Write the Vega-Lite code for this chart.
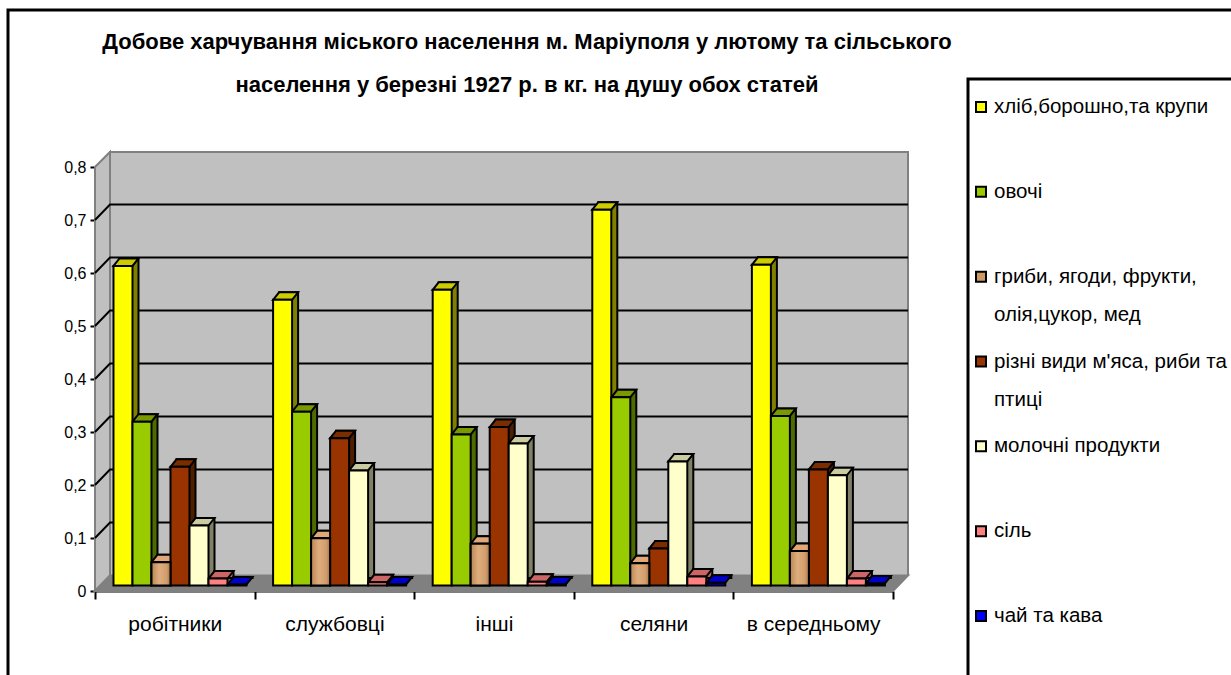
{
"$schema":"https://vega.github.io/schema/vega-lite/v6.json",
"width":798,"height":424,
"autosize":"none",
"padding":{"left":95,"top":167,"right":338,"bottom":84},
"background":"white",
"title":{"text":["Добове харчування міського населення м. Маріуполя у лютому та сільського","населення у березні 1927 р. в кг. на душу обох статей"],"font":"Liberation Sans","fontWeight":"bold","fontSize":22,"lineHeight":43,"dx":33,"offset":-93,"anchor":"middle","color":"black"},
"config":{"view":{"stroke":null},"font":"Liberation Sans"},
"datasets":{
"bars":[
{"cat":"робітники","series":"хліб,борошно,та крупи","value":0.603},
{"cat":"робітники","series":"овочі","value":0.309},
{"cat":"робітники","series":"гриби, ягоди, фрукти, олія,цукор, мед","value":0.044},
{"cat":"робітники","series":"різні види м'яса, риби та птиці","value":0.224},
{"cat":"робітники","series":"молочні продукти","value":0.113},
{"cat":"робітники","series":"сіль","value":0.013},
{"cat":"робітники","series":"чай та кава","value":0.002},
{"cat":"службовці","series":"хліб,борошно,та крупи","value":0.539},
{"cat":"службовці","series":"овочі","value":0.328},
{"cat":"службовці","series":"гриби, ягоди, фрукти, олія,цукор, мед","value":0.089},
{"cat":"службовці","series":"різні види м'яса, риби та птиці","value":0.278},
{"cat":"службовці","series":"молочні продукти","value":0.217},
{"cat":"службовці","series":"сіль","value":0.006},
{"cat":"службовці","series":"чай та кава","value":0.002},
{"cat":"інші","series":"хліб,борошно,та крупи","value":0.558},
{"cat":"інші","series":"овочі","value":0.285},
{"cat":"інші","series":"гриби, ягоди, фрукти, олія,цукор, мед","value":0.079},
{"cat":"інші","series":"різні види м'яса, риби та птиці","value":0.299},
{"cat":"інші","series":"молочні продукти","value":0.268},
{"cat":"інші","series":"сіль","value":0.007},
{"cat":"інші","series":"чай та кава","value":0.002},
{"cat":"селяни","series":"хліб,борошно,та крупи","value":0.709},
{"cat":"селяни","series":"овочі","value":0.355},
{"cat":"селяни","series":"гриби, ягоди, фрукти, олія,цукор, мед","value":0.042},
{"cat":"селяни","series":"різні види м'яса, риби та птиці","value":0.07},
{"cat":"селяни","series":"молочні продукти","value":0.234},
{"cat":"селяни","series":"сіль","value":0.017},
{"cat":"селяни","series":"чай та кава","value":0.005},
{"cat":"в  середньому","series":"хліб,борошно,та крупи","value":0.605},
{"cat":"в  середньому","series":"овочі","value":0.32},
{"cat":"в  середньому","series":"гриби, ягоди, фрукти, олія,цукор, мед","value":0.065},
{"cat":"в  середньому","series":"різні види м'яса, риби та птиці","value":0.219},
{"cat":"в  середньому","series":"молочні продукти","value":0.208},
{"cat":"в  середньому","series":"сіль","value":0.013},
{"cat":"в  середньому","series":"чай та кава","value":0.004}
],
"cats":[{"cat":"робітники","top":0.8},{"cat":"службовці","top":0.8},{"cat":"інші","top":0.8},{"cat":"селяни","top":0.8},{"cat":"в  середньому","top":0.8}],
"ticks":[{"cat":"робітники","tick":0.1},{"cat":"робітники","tick":0.2},{"cat":"робітники","tick":0.3},{"cat":"робітники","tick":0.4},{"cat":"робітники","tick":0.5},{"cat":"робітники","tick":0.6},{"cat":"робітники","tick":0.7}],
"origin":[{"cat":"робітники","tick":0,"fx":0}],
"legend":[
{"series":"хліб,борошно,та крупи","label":"хліб,борошно,та крупи","row":0,"sx":0,"lx":1},
{"series":"овочі","label":"овочі","row":1,"sx":0,"lx":1},
{"series":"гриби, ягоди, фрукти, олія,цукор, мед","label":"гриби, ягоди, фрукти,|олія,цукор, мед","row":2,"sx":0,"lx":1},
{"series":"різні види м'яса, риби та птиці","label":"різні види м'яса, риби та|птиці","row":3,"sx":0,"lx":1},
{"series":"молочні продукти","label":"молочні продукти","row":4,"sx":0,"lx":1},
{"series":"сіль","label":"сіль","row":5,"sx":0,"lx":1},
{"series":"чай та кава","label":"чай та кава","row":6,"sx":0,"lx":1}
]
},
"layer":[
{"layer":[
{"data":{"name":"cats"},"mark":{"type":"bar","color":"#C0C0C0","stroke":"#C0C0C0","strokeWidth":1,"xOffset":15,"x2Offset":15,"yOffset":-15.5,"y2Offset":-15.5,"clip":false},
 "encoding":{"x":{"field":"cat","type":"nominal","sort":null,"scale":{"domain":["робітники","службовці","інші","селяни","в  середньому"],"paddingInner":0,"paddingOuter":0},"axis":{"title":null,"labelFont":"Liberation Sans","labelFontSize":21,"labelColor":"black","labelAngle":0,"labelPadding":14,"domainColor":"black","domainWidth":2,"tickColor":"black","tickWidth":2,"tickSize":8,"tickBand":"extent","grid":false}},
 "y":{"field":"top","type":"quantitative","scale":{"domain":[0,0.8],"nice":false},"axis":{"title":null,"values":[0,0.1,0.2,0.3,0.4,0.5,0.6,0.7,0.8],"labelExpr":"datum.value==0?'0':replace(datum.label,'.',',')","labelFont":"Liberation Sans","labelFontSize":16,"labelColor":"black","labelPadding":4,"domainColor":"black","domainWidth":2,"tickColor":"black","tickWidth":2,"tickSize":5,"grid":false}}}},
{"data":{"name":"origin"},"mark":{"type":"point","filled":true,"fill":"#C0C0C0","stroke":"#808080","strokeWidth":2,"opacity":1,"size":4,"shape":"M0,0 L15,-15.5 L15,-439 L0,-424 Z"},
 "encoding":{"x":{"field":"cat","type":"nominal","bandPosition":0},"y":{"field":"tick","type":"quantitative"}}},
{"data":{"name":"origin"},"mark":{"type":"point","filled":true,"fill":"#808080","stroke":"#808080","strokeWidth":2,"opacity":1,"size":4,"shape":"M0,0 L15,-15.5 L813,-15.5 L798,0 Z"},
 "encoding":{"x":{"field":"cat","type":"nominal","bandPosition":0},"y":{"field":"tick","type":"quantitative"}}},
{"data":{"name":"origin"},"mark":{"type":"point","filled":false,"stroke":"#808080","strokeWidth":2,"opacity":1,"size":4,"shape":"M15,-15.5 L15,-439 L813,-439 L813,-15.5"},
 "encoding":{"x":{"field":"cat","type":"nominal","bandPosition":0},"y":{"field":"tick","type":"quantitative"}}},
{"data":{"name":"ticks"},"mark":{"type":"point","filled":false,"stroke":"black","strokeWidth":2,"opacity":1,"size":4,"shape":"M0,0 L15,-15.5 L813,-15.5"},
 "encoding":{"x":{"field":"cat","type":"nominal","bandPosition":0},"y":{"field":"tick","type":"quantitative"}}},
{"data":{"name":"bars"},"mark":{"type":"bar","yOffset":-13,"y2Offset":-13,"stroke":"black","strokeWidth":2},
 "encoding":{"x":{"field":"cat","type":"nominal"},"xOffset":{"field":"series","sort":null,"scale":{"domain":["хліб,борошно,та крупи","овочі","гриби, ягоди, фрукти, олія,цукор, мед","різні види м'яса, риби та птиці","молочні продукти","сіль","чай та кава"],"range":[11,171],"paddingOuter":0.71,"paddingInner":0}},"y":{"field":"value","type":"quantitative"},
 "fill":{"field":"series","type":"nominal","legend":null,"scale":{"domain":["хліб,борошно,та крупи","овочі","гриби, ягоди, фрукти, олія,цукор, мед","різні види м'яса, риби та птиці","молочні продукти","сіль","чай та кава"],"range":["#808000","#4E6B00","#A87B50","#4D1F00","#808066","#B36666","#00007F"]}}}},
{"data":{"name":"bars"},"mark":{"type":"point","filled":true,"stroke":"black","strokeWidth":2,"opacity":1,"size":4,"yOffset":-5.5,"shape":"M-9.5,0 L-3.5,-7.5 L15.5,-7.5 L9.5,0 Z"},
 "encoding":{"x":{"field":"cat","type":"nominal"},"xOffset":{"field":"series","sort":null,"scale":{"type":"point","domain":["хліб,борошно,та крупи","овочі","гриби, ягоди, фрукти, олія,цукор, мед","різні види м'яса, риби та птиці","молочні продукти","сіль","чай та кава"],"range":[28,142],"padding":0}},"y":{"field":"value","type":"quantitative"},
 "fill":{"field":"series","type":"nominal","legend":null,"scale":{"domain":["хліб,борошно,та крупи","овочі","гриби, ягоди, фрукти, олія,цукор, мед","різні види м'яса, риби та птиці","молочні продукти","сіль","чай та кава"],"range":["#CCCC00","#7A9900","#E0A878","#7A2E00","#CCCCA3","#CC6666","#0000CC"]}}}},
{"data":{"name":"bars"},"mark":{"type":"bar","yOffset":-5.5,"y2Offset":-5.5,"stroke":"black","strokeWidth":2},
 "encoding":{"x":{"field":"cat","type":"nominal"},"xOffset":{"field":"series","sort":null,"scale":{"domain":["хліб,борошно,та крупи","овочі","гриби, ягоди, фрукти, олія,цукор, мед","різні види м'яса, риби та птиці","молочні продукти","сіль","чай та кава"],"range":[5,165],"paddingOuter":0.71,"paddingInner":0}},"y":{"field":"value","type":"quantitative"},
 "fill":{"field":"series","type":"nominal","legend":null,"scale":{"domain":["хліб,борошно,та крупи","овочі","гриби, ягоди, фрукти, олія,цукор, мед","різні види м'яса, риби та птиці","молочні продукти","сіль","чай та кава"],"range":["#FFFF00","#99CC00","#CC9966","#993300","#FFFFCC","#FF8080","#0000FF"]}}}},
{"data":{"name":"bars"},"transform":[{"filter":"datum.series=='гриби, ягоди, фрукти, олія,цукор, мед'"}],"mark":{"type":"bar","yOffset":-5.5,"y2Offset":-5.5,"stroke":"black","strokeWidth":2,"fill":{"gradient":"linear","x1":0,"x2":1,"y1":0,"y2":0,"stops":[{"offset":0,"color":"#B98555"},{"offset":0.4,"color":"#E0AE7E"},{"offset":0.8,"color":"#D09C6C"},{"offset":1,"color":"#A87448"}]}},
 "encoding":{"x":{"field":"cat","type":"nominal"},"xOffset":{"field":"series","sort":null,"scale":{"domain":["хліб,борошно,та крупи","овочі","гриби, ягоди, фрукти, олія,цукор, мед","різні види м'яса, риби та птиці","молочні продукти","сіль","чай та кава"],"range":[5,165],"paddingOuter":0.71,"paddingInner":0}},"y":{"field":"value","type":"quantitative"}}}
],"resolve":{"scale":{"fill":"independent","xOffset":"independent"}}},
{"data":{"name":"origin"},"mark":{"type":"point","filled":false,"stroke":"black","strokeWidth":3,"opacity":1,"size":4,"shape":"M-87,90 L-87,-581 L1140,-581 M873,90 L873,-512 L1140,-512"},
 "encoding":{"x":{"field":"fx","type":"quantitative","axis":null,"scale":{"domain":[0,1],"range":[0,798]}},"y":{"field":"tick","type":"quantitative","axis":null,"scale":{"domain":[0,1],"range":[424,0]}}}},
{"data":{"name":"legend"},"mark":{"type":"point","filled":true,"stroke":"black","strokeWidth":2,"opacity":1,"size":100,"shape":"square"},
 "encoding":{"x":{"field":"sx","type":"quantitative","axis":null,"scale":{"domain":[0,1],"range":[886,899]}},"y":{"field":"row","type":"quantitative","axis":null,"scale":{"domain":[0,6],"range":[-60,449]}},
 "fill":{"field":"series","type":"nominal","legend":null,"scale":{"domain":["хліб,борошно,та крупи","овочі","гриби, ягоди, фрукти, олія,цукор, мед","різні види м'яса, риби та птиці","молочні продукти","сіль","чай та кава"],"range":["#FFFF00","#99CC00","#CC9966","#993300","#FFFFCC","#FF8080","#0000FF"]}}}},
{"data":{"name":"legend"},"mark":{"type":"text","font":"Liberation Sans","fontSize":20.5,"align":"left","baseline":"top","yOffset":-10,"lineBreak":"|","lineHeight":38,"color":"black"},
 "encoding":{"x":{"field":"lx","type":"quantitative","axis":null,"scale":{"domain":[0,1],"range":[886,899]}},"y":{"field":"row","type":"quantitative","axis":null,"scale":{"domain":[0,6],"range":[-60,449]}},"text":{"field":"label"}}}
],
"resolve":{"scale":{"x":"independent","y":"independent","fill":"independent"},"axis":{"x":"independent","y":"independent"}}
}
